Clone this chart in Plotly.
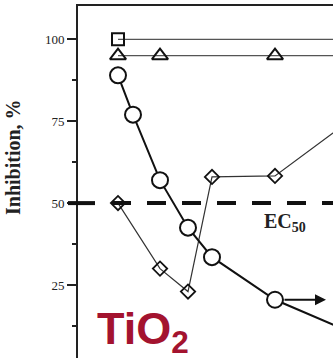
import plotly.graph_objects as go

# Concentration positions (arbitrary log-like units) and inhibition values, %
x_square = [1.0, 7.5]
y_square = [100, 100]

x_triangle = [1.0, 2.05, 4.925, 7.5]
y_triangle = [95, 95, 95, 95]

x_circle = [1.0, 1.375, 2.05, 2.75, 3.35, 4.925, 7.5]
y_circle = [89, 77, 57, 42.5, 33.5, 20.5, 7]

x_diamond = [1.0, 2.05, 2.75, 3.35, 4.925, 7.5]
y_diamond = [50, 30, 23, 58, 58.3, 81.5]

ec50 = 50
y_ticks = [25, 50, 75, 100]
y_range = [2.72, 110.16]
x_range = [0, 6.375]

W, H = 333, 358
ML, MT = 78, 6

fig = go.Figure()

fig.add_trace(go.Scatter(
    x=x_square, y=y_square, mode="lines+markers",
    line=dict(color="#555555", width=1.2),
    marker=dict(symbol="square-open", size=12, color="#111111", line=dict(width=2)),
    showlegend=False))

fig.add_trace(go.Scatter(
    x=x_triangle, y=y_triangle, mode="lines+markers",
    line=dict(color="#555555", width=1.2),
    marker=dict(symbol="triangle-up-open", size=14, color="#111111", line=dict(width=2)),
    showlegend=False))

fig.add_trace(go.Scatter(
    x=x_diamond, y=y_diamond, mode="lines+markers",
    line=dict(color="#333333", width=1.2),
    marker=dict(symbol="diamond-open", size=11, color="#111111", line=dict(width=1.8)),
    showlegend=False))

fig.add_trace(go.Scatter(
    x=x_circle, y=y_circle, mode="lines+markers",
    line=dict(color="#111111", width=2),
    marker=dict(symbol="circle", size=16, color="white", line=dict(width=2, color="#111111")),
    showlegend=False))

# EC50 reference line (paper coordinates so it can reach past the axis)
pw = W - ML
ph = H - MT
ec_paper = (ec50 - y_range[0]) / (y_range[1] - y_range[0])
fig.add_shape(type="line", xref="paper", yref="paper",
              x0=(68 - ML) / pw, x1=(95 - ML) / pw, y0=ec_paper, y1=ec_paper,
              line=dict(color="#111111", width=4))
fig.add_shape(type="line", xref="paper", yref="paper",
              x0=(112 - ML) / pw, x1=1.05, y0=ec_paper, y1=ec_paper,
              line=dict(color="#111111", width=4, dash="19px,16px"))

# Arrow from the last circle pointing to higher concentrations
fig.add_annotation(x=6.2, y=y_circle[5], ax=5.125, ay=y_circle[5],
                   xref="x", yref="y", axref="x", ayref="y",
                   text="", showarrow=True, arrowhead=2, arrowsize=1.1,
                   arrowwidth=2, arrowcolor="#111111")

fig.add_annotation(x=5.17, y=44.2, xref="x", yref="y",
                   text="<b>EC<sub>50</sub></b>", showarrow=False,
                   font=dict(family="Liberation Serif", size=20, color="#222222"),
                   xanchor="center", yanchor="middle")

fig.add_annotation(x=0.425, y=(H - 331) / ph, xref="x", yref="paper",
                   text="<b>TiO<sub>2</sub></b>", showarrow=False,
                   font=dict(family="Liberation Sans", size=45, color="#a3132f"),
                   xanchor="left", yanchor="middle")

fig.add_annotation(x=0, y=(H - 157) / ph, xref="paper", yref="paper",
                   xshift=-65, text="<b>Inhibition, %</b>", textangle=-90,
                   showarrow=False,
                   font=dict(family="Liberation Serif", size=20, color="#222222"),
                   xanchor="center", yanchor="middle")

fig.update_layout(
    width=W, height=H,
    margin=dict(l=ML, r=0, t=MT, b=0),
    paper_bgcolor="white", plot_bgcolor="white",
    xaxis=dict(range=x_range, side="top", showline=True, linecolor="#222222",
               linewidth=2, showticklabels=False, ticks="", showgrid=False,
               zeroline=False),
    yaxis=dict(range=y_range, tickvals=y_ticks, ticktext=[str(v) for v in y_ticks],
               showline=True, linecolor="#222222", linewidth=2,
               ticks="outside", ticklen=9, tickwidth=1.5, tickcolor="#222222",
               minor=dict(tickvals=[12.5, 37.5, 62.5, 87.5], ticks="outside",
                          ticklen=4, tickwidth=1.5, tickcolor="#222222"),
               tickfont=dict(family="Liberation Serif", size=13, color="#222222"),
               showgrid=False, zeroline=False),
)

fig.write_html("out.html")
